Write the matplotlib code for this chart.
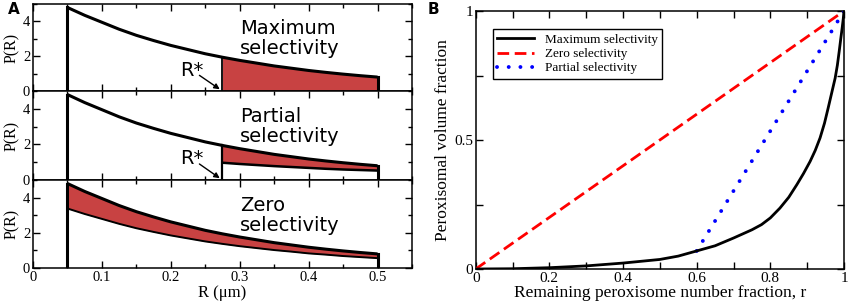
import matplotlib
matplotlib.use("Agg")
import matplotlib.pyplot as plt
import numpy as np

# ---------------- data ----------------
# Panel A: size distribution P(R)
R_vals = [0.05, 0.075, 0.1, 0.125, 0.15, 0.175, 0.2, 0.225, 0.25, 0.275,
          0.3, 0.325, 0.35, 0.375, 0.4, 0.425, 0.45, 0.475, 0.5]
P_full = [4.8, 4.35, 3.95, 3.55, 3.2, 2.9, 2.62, 2.38, 2.14, 1.94,
          1.76, 1.6, 1.44, 1.31, 1.18, 1.07, 0.97, 0.88, 0.8]
# partial selectivity: remaining distribution above R*
P_partial_low = [0.97, 0.9, 0.84, 0.78, 0.73, 0.68, 0.63, 0.59, 0.56, 0.53]   # R from R* to 0.5
# zero selectivity: remaining distribution (scaled)
P_zero_low = [3.38, 3.07, 2.79, 2.51, 2.26, 2.05, 1.85, 1.68, 1.51, 1.37,
              1.24, 1.13, 1.02, 0.93, 0.83, 0.76, 0.68, 0.62, 0.56]
R_star = 0.275
R_min, R_max = 0.05, 0.5
panel_texts = ["Maximum\nselectivity", "Partial\nselectivity", "Zero\nselectivity"]

# Panel B: peroxisomal volume fraction vs remaining number fraction
r_max = [0.0, 0.1, 0.2, 0.3, 0.4, 0.5, 0.55, 0.6, 0.65, 0.7, 0.75, 0.776, 0.8,
         0.826, 0.85, 0.872, 0.89, 0.908, 0.922, 0.935, 0.947, 0.957, 0.967,
         0.976, 0.982, 0.987, 0.991, 0.995, 0.998, 1.0]
v_max = [0.0, 0.001, 0.005, 0.012, 0.023, 0.037, 0.05, 0.07, 0.09, 0.12, 0.152,
         0.172, 0.198, 0.236, 0.278, 0.327, 0.37, 0.417, 0.46, 0.508, 0.565,
         0.624, 0.685, 0.74, 0.79, 0.844, 0.89, 0.934, 0.97, 1.0]
r_zero = [0.0, 1.0]
v_zero = [0.0, 1.0]
r_partial = [0.6, 1.0]
v_partial = [0.07, 1.0]
legend_labels = ["Maximum selectivity", "Zero selectivity", "Partial selectivity"]

# ---------------- style ----------------
serif = ["Liberation Serif", "DejaVu Serif"]
sans = ["DejaVu Sans"]
fill_col = "#c84242"

fig = plt.figure(figsize=(8.5, 3.06), dpi=100)

# Panel A axes
A_left, A_w = 33 / 850, (412 - 33) / 850
tops = [4, 91, 180]
bots = [91, 180, 268]
axesA = []
for i in range(3):
    b = 1 - bots[i] / 306
    h = (bots[i] - tops[i]) / 306
    ax = fig.add_axes([A_left, b, A_w, h])
    axesA.append(ax)

R = np.array(R_vals)
P = np.array(P_full)
lw_c = 2.2
for i, ax in enumerate(axesA):
    ax.set_xlim(0, 0.55)
    ax.set_ylim(0, 5)
    # full curve
    ax.plot(R, P, color="black", lw=lw_c, solid_capstyle="butt", zorder=4)
    ax.plot([R_min, R_min], [0, P[0]], color="black", lw=lw_c, zorder=4)
    ax.plot([R_max, R_max], [0, P[-1]], color="black", lw=lw_c, zorder=4)
    mask = R >= R_star - 1e-9
    if i == 0:
        ax.fill_between(R[mask], 0, P[mask], color=fill_col, zorder=2, lw=0)
        ax.plot([R_star, R_star], [0, P[mask][0]], color="black", lw=1.3, zorder=4)
    elif i == 1:
        low = np.array(P_partial_low)
        ax.fill_between(R[mask], low, P[mask], color=fill_col, zorder=2, lw=0)
        ax.plot(R[mask], low, color="black", lw=1.8, zorder=4)
        ax.plot([R_star, R_star], [0, P[mask][0]], color="black", lw=1.6, zorder=4)
    else:
        low = np.array(P_zero_low)
        ax.fill_between(R, low, P, color=fill_col, zorder=2, lw=0)
        ax.plot(R, low, color="black", lw=1.4, zorder=4)
    ax.text(0.30, 3.0, panel_texts[i], family=sans, fontsize=14,
            ha="left", va="center", linespacing=1.05)
    if i < 2:
        ax.text(0.2305, 1.2, "R*", family=sans, fontsize=14,
                ha="center", va="center")
        ax.annotate("", xy=(0.271, 0.1), xytext=(0.2415, 0.9),
                    arrowprops=dict(arrowstyle="-|>", color="black", lw=1.0,
                                    mutation_scale=8, shrinkA=0, shrinkB=0))
    ax.set_xticks(np.arange(0, 0.551, 0.1))
    ax.set_xticks(np.arange(0.05, 0.551, 0.1), minor=True)
    ax.set_yticks([0, 2, 4])
    ax.set_yticks([1, 3, 5], minor=True)
    ax.tick_params(direction="in", which="both", top=True, right=True,
                   width=1.0, labelsize=10.5, pad=2)
    ax.tick_params(which="major", length=5)
    ax.tick_params(which="minor", length=3)
    for lab in ax.get_xticklabels() + ax.get_yticklabels():
        lab.set_family(serif)
    ax.set_ylabel("P(R)", family=serif, fontsize=11.5, labelpad=2)
    for s in ax.spines.values():
        s.set_linewidth(1.1)
    if i < 2:
        ax.tick_params(labelbottom=False)
    else:
        ax.set_xticklabels(["0", "0.1", "0.2", "0.3", "0.4", "0.5"])
        for lab in ax.get_xticklabels():
            lab.set_family(serif)
        ax.set_xlabel("R (μm)", family=serif, fontsize=12, labelpad=1)

fig.text(8 / 850, 1 - 10 / 306, "A", family=sans, fontweight="bold",
         fontsize=11, ha="left", va="center")

# Panel B
bl, br, bt, bb = 475.7, 844, 11, 269
axB = fig.add_axes([bl / 850, 1 - bb / 306, (br - bl) / 850, (bb - bt) / 306])
axB.plot(r_max, v_max, color="black", lw=2.0, label=legend_labels[0], zorder=4)
axB.plot(r_zero, v_zero, color="#ff0000", lw=2.0, dashes=(4.2, 2.0),
         label=legend_labels[1], zorder=3)
axB.plot(r_partial, v_partial, color="#0000ff", lw=2.8, linestyle=(0, (0.01, 3.0)),
         dash_capstyle="round", label=legend_labels[2], zorder=3)
axB.set_xlim(0, 1)
axB.set_ylim(0, 1)
axB.set_xticks([0, 0.2, 0.4, 0.6, 0.8, 1.0])
axB.set_xticklabels(["0", "0.2", "0.4", "0.6", "0.8", "1"])
axB.set_xticks(np.arange(0.1, 1.0, 0.2), minor=True)
axB.set_yticks([0, 0.5, 1.0])
axB.set_yticklabels(["0", "0.5", "1"])
axB.set_yticks([0.25, 0.75], minor=True)
axB.tick_params(direction="in", which="both", top=True, right=True,
                width=1.0, labelsize=11, pad=2)
axB.tick_params(which="major", length=5)
axB.tick_params(which="minor", length=5)
for lab in axB.get_xticklabels() + axB.get_yticklabels():
    lab.set_family(serif)
axB.set_xlabel("Remaining peroxisome number fraction, r", family=serif,
               fontsize=12.5, labelpad=0)
axB.set_ylabel("Peroxisomal volume fraction", family=serif, fontsize=12.5,
               labelpad=2)
for s in axB.spines.values():
    s.set_linewidth(1.1)
leg = axB.legend(loc="upper left", bbox_to_anchor=(0.046, 0.93),
                 prop={"family": serif, "size": 9.5}, fancybox=False,
                 framealpha=1, edgecolor="black", handlelength=2.8,
                 borderpad=0.35, labelspacing=0.15, handletextpad=0.8,
                 borderaxespad=0)
leg.get_frame().set_linewidth(1.0)
fig.text(428 / 850, 1 - 9 / 306, "B", family=sans, fontweight="bold",
         fontsize=11, ha="left", va="center")

fig.savefig("out.png", dpi=100)
